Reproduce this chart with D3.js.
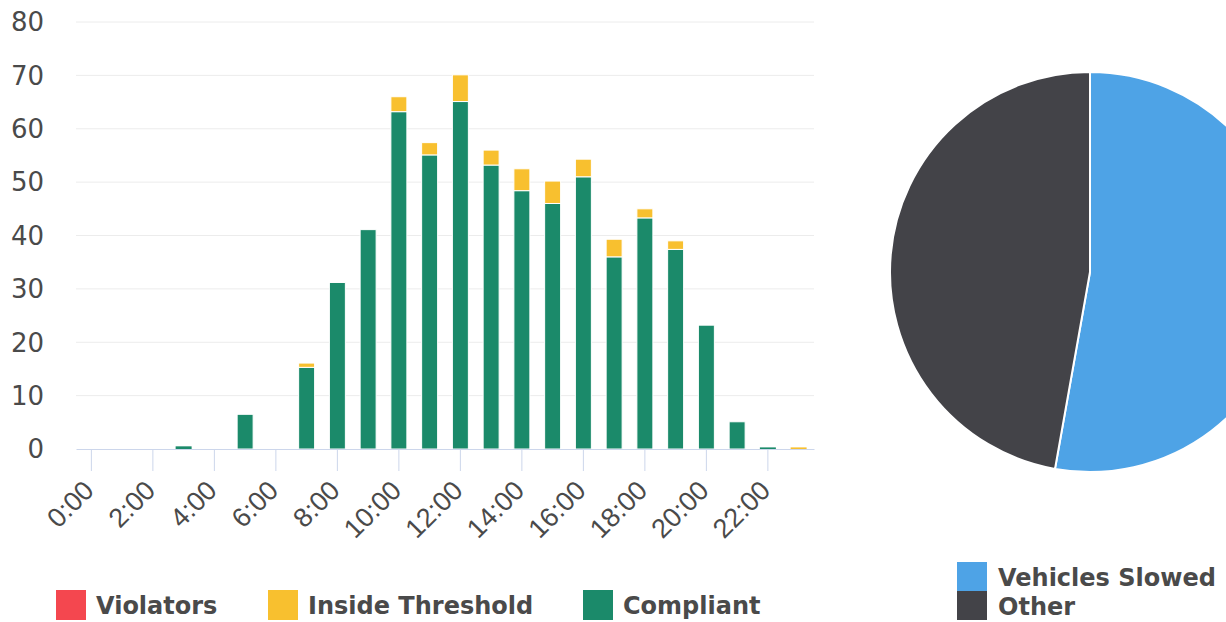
<!DOCTYPE html>
<html>
<head>
<meta charset="utf-8">
<script src="https://cdn.jsdelivr.net/npm/d3@7"></script>
<style>
  body { margin: 0; background: #fff; }
  svg { display: block; font-family: "DejaVu Sans", sans-serif; }
</style>
</head>
<body>
<div id="chart"></div>
<script>
// hourly counts
const hours = d3.range(24);
const hourLabels = hours.map(h => h + ':00');
const compliant = [0, 0, 0, 0.5, 0, 6.5, 0, 15.3, 31.2, 41.1, 63.2, 55.1, 65.1, 53.2, 48.4, 46.0, 51.0, 36.0, 43.3, 37.4, 23.2, 5.1, 0.3, 0];
const insideThreshold = [0, 0, 0, 0, 0, 0, 0, 0.8, 0, 0, 2.8, 2.3, 5.0, 2.8, 4.1, 4.2, 3.3, 3.3, 1.7, 1.6, 0, 0, 0, 0.3];
const violators = [0, 0, 0, 0, 0, 0, 0, 0, 0, 0, 0, 0, 0, 0, 0, 0, 0, 0, 0, 0, 0, 0, 0, 0];
const yTicks = [0, 10, 20, 30, 40, 50, 60, 70, 80];

const barSeries = ['Violators', 'Inside Threshold', 'Compliant'];
const barColors = { 'Violators': '#f4474f', 'Inside Threshold': '#f8c02f', 'Compliant': '#1b8a6a' };

const pieLabels = ['Vehicles Slowed', 'Other'];
const pieValues = [52.8, 47.2];
const pieColors = ['#4ea3e6', '#434348'];

const W = 1226, H = 622;
const svg = d3.select('#chart').append('svg')
  .attr('width', W)
  .attr('height', H);

// ---- bar chart ----
const rows = hours.map((h, i) => ({
  hour: h,
  'Compliant': compliant[i],
  'Inside Threshold': insideThreshold[i],
  'Violators': violators[i]
}));

const stacked = d3.stack()
  .keys(['Compliant', 'Inside Threshold', 'Violators'])(rows);

const x = d3.scaleBand()
  .domain(hours)
  .range([76, 814])
  .paddingInner(0.48)
  .paddingOuter(0.24);

const y = d3.scaleLinear()
  .domain([0, 80])
  .range([449, 22]);

// grid
svg.append('g')
  .selectAll('line')
  .data(yTicks.slice(1))
  .enter().append('line')
  .attr('x1', 76).attr('x2', 814)
  .attr('y1', d => y(d)).attr('y2', d => y(d))
  .attr('stroke', '#ececec')
  .attr('stroke-width', 1);

// y labels
svg.append('g')
  .selectAll('text')
  .data(yTicks)
  .enter().append('text')
  .attr('x', 44)
  .attr('y', d => y(d))
  .attr('dy', '0.36em')
  .attr('text-anchor', 'end')
  .attr('fill', '#4a4a4a')
  .style('font-size', '26px')
  .text(d => d);

// bars
svg.append('g')
  .selectAll('g')
  .data(stacked)
  .enter().append('g')
  .attr('fill', d => barColors[d.key])
  .selectAll('rect')
  .data(d => d)
  .enter().append('rect')
  .attr('x', d => x(d.data.hour))
  .attr('width', x.bandwidth())
  .attr('y', d => y(d[1]))
  .attr('height', d => Math.max(0, y(d[0]) - y(d[1])))
  .attr('stroke', '#fff')
  .attr('stroke-width', d => (y(d[0]) - y(d[1]) > 3 ? 1 : 0));

// x axis
const xAxis = svg.append('g')
  .attr('transform', 'translate(0,449)')
  .call(d3.axisBottom(x)
    .tickValues(hours.filter(h => h % 2 === 0))
    .tickFormat(h => hourLabels[h])
    .tickSize(22)
    .tickSizeOuter(0));

xAxis.select('.domain').attr('stroke', '#ccd6eb');
xAxis.selectAll('.tick line').attr('stroke', '#ccd6eb');
xAxis.selectAll('.tick text')
  .attr('fill', '#4a4a4a')
  .style('font-size', '27px')
  .attr('text-anchor', 'end')
  .attr('x', 4)
  .attr('y', 43)
  .attr('dy', 0)
  .attr('transform', 'rotate(-45, 4, 43)');

// bar legend
const legendX = [56, 268, 583];
const bl = svg.append('g').selectAll('g')
  .data(barSeries)
  .enter().append('g')
  .attr('transform', (d, i) => `translate(${legendX[i]},590)`);
bl.append('rect')
  .attr('width', 30).attr('height', 30)
  .attr('fill', d => barColors[d]);
bl.append('text')
  .attr('x', 40).attr('y', 24)
  .attr('fill', '#4a4a4a')
  .style('font-size', '24px')
  .style('font-weight', 'bold')
  .text(d => d);

// ---- pie ----
const pie = d3.pie().sort(null).value(d => d)(pieValues);
const arc = d3.arc().innerRadius(0).outerRadius(200);

svg.append('g')
  .attr('transform', 'translate(1090,272)')
  .selectAll('path')
  .data(pie)
  .enter().append('path')
  .attr('d', arc)
  .attr('fill', (d, i) => pieColors[i])
  .attr('stroke', '#fff')
  .attr('stroke-width', 2);

const pl = svg.append('g').selectAll('g')
  .data(pieLabels)
  .enter().append('g')
  .attr('transform', (d, i) => `translate(957,${562 + i * 29})`);
pl.append('rect')
  .attr('width', 30).attr('height', 29)
  .attr('fill', (d, i) => pieColors[i]);
pl.append('text')
  .attr('x', 41).attr('y', 24)
  .attr('fill', '#4a4a4a')
  .style('font-size', '24px')
  .style('font-weight', 'bold')
  .text(d => d);
</script>
</body>
</html>
